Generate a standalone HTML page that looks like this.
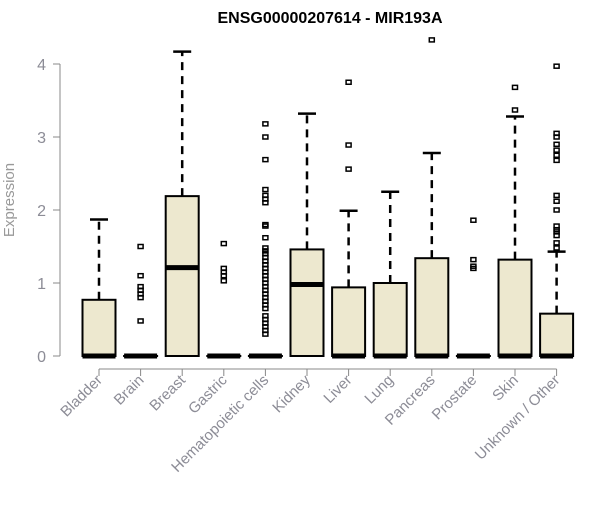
<!DOCTYPE html>
<html><head><meta charset="utf-8"><style>
body{margin:0;background:#fff}
svg{font-family:"Liberation Sans",sans-serif}
</style></head><body>
<svg id="chart" width="600" height="500">
<text x="330" y="23" text-anchor="middle" font-weight="bold" font-size="16">ENSG00000207614 - MIR193A</text>
<text transform="translate(14,200) rotate(-90)" text-anchor="middle" font-size="15" fill="#999">Expression</text>
<g id="g"></g>
</svg>
<script>
const categories=["Bladder","Brain","Breast","Gastric","Hematopoietic cells","Kidney","Liver","Lung","Pancreas","Prostate","Skin","Unknown / Other"];
const q1=[0,0,0,0,0,0,0,0,0,0,0,0];
const medians=[0,0,1.21,0,0,0.98,0,0,0,0,0,0];
const q3=[0.77,0,2.19,0,0,1.46,0.94,1.0,1.34,0,1.32,0.58];
const whiskerHi=[1.87,0,4.17,0,0,3.32,1.99,2.25,2.78,0,3.28,1.43];
const outliers=[[],[1.5,1.1,0.95,0.9,0.85,0.8,0.48],[],[1.54,1.2,1.15,1.1,1.03],
[3.18,3.0,2.69,2.28,2.2,2.15,2.1,1.8,1.78,1.62,1.48,1.44,1.4,1.35,1.3,1.25,1.2,1.15,1.1,1.05,1.0,0.95,0.9,0.85,0.8,0.75,0.7,0.65,0.55,0.5,0.45,0.4,0.35,0.3],
[],[3.75,2.89,2.56],[],[4.33],[1.86,1.32,1.23,1.2],[3.68,3.37],
[3.97,3.05,3.0,2.9,2.82,2.75,2.68,2.2,2.12,2.0,1.78,1.73,1.7,1.65,1.55,1.48]];
const yTicks=[0,1,2,3,4];
const ns="http://www.w3.org/2000/svg",g=document.getElementById('g');
const y=v=>356-v*73, x=i=>99+i*41.6;
function mk(t,a,p){const e=document.createElementNS(ns,t);for(const k in a)e.setAttribute(k,a[k]);(p||g).appendChild(e);return e;}
let e=mk('line',{x1:60,x2:60,y1:y(0),y2:y(4),stroke:'#888'});


yTicks.forEach(t=>{mk('line',{x1:53,x2:60,y1:y(t),y2:y(t),stroke:'#888'});
const l=mk('text',{x:46,y:y(t)+6,'text-anchor':'end','font-size':16,fill:'#8c8c96'});l.textContent=t;

});
e=mk('line',{x1:x(0),x2:x(11),y1:369,y2:369,stroke:'#888'});


categories.forEach((c,i)=>{const cx=x(i),w=16.5;
mk('line',{x1:cx,x2:cx,y1:369,y2:376,stroke:'#888'});
const l=mk('text',{transform:`translate(${cx+4},${381}) rotate(-45)`,'text-anchor':'end','font-size':15,fill:'#8c8c96'});l.textContent=c;


if(whiskerHi[i]>q3[i]){mk('line',{x1:cx,x2:cx,y1:y(q3[i]),y2:y(whiskerHi[i]),stroke:'#000','stroke-width':2.5,'stroke-dasharray':'8,6'});
mk('line',{x1:cx-9,x2:cx+9,y1:y(whiskerHi[i]),y2:y(whiskerHi[i]),stroke:'#000','stroke-width':2.5});}
const b=mk('rect',{x:cx-w,width:2*w,y:y(q3[i]),height:Math.max(0.01,y(q1[i])-y(q3[i])),fill:'#ede8cf',stroke:'#000','stroke-width':2});


mk('line',{x1:cx-w,x2:cx+w,y1:y(medians[i]),y2:y(medians[i]),stroke:'#000','stroke-width':5});
outliers[i].forEach(v=>{const p=mk('rect',{x:cx-2.5,y:y(v)-2,width:5,height:4,fill:'none',stroke:'#000','stroke-width':1.5});

});
});
</script>
</body></html>
